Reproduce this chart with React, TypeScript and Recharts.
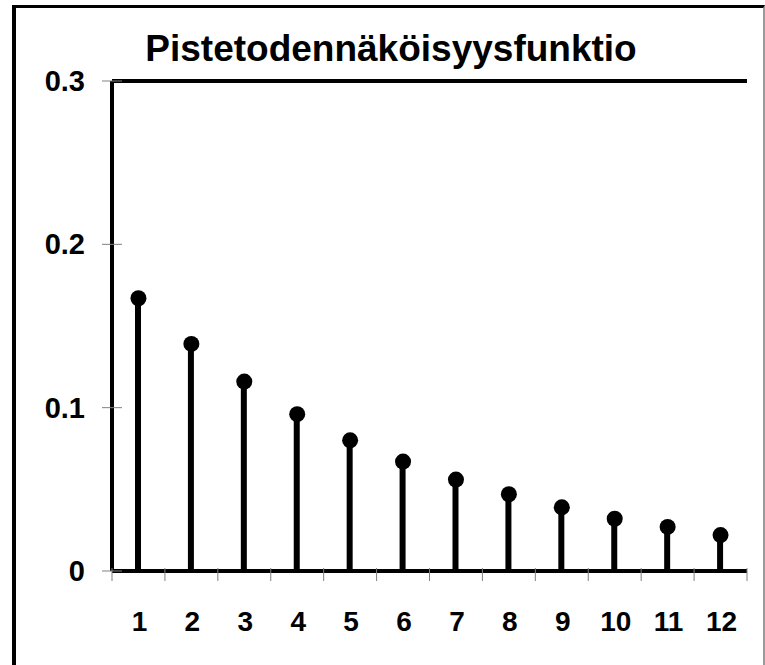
import { Bar, ComposedChart, Line, ReferenceLine, XAxis, YAxis } from "recharts";

const categories = ["1", "2", "3", "4", "5", "6", "7", "8", "9", "10", "11", "12"];
const probabilities = [0.167, 0.139, 0.116, 0.096, 0.08, 0.067, 0.056, 0.047, 0.039, 0.032, 0.027, 0.022];
const yTicks = [0, 0.1, 0.2, 0.3];
const TITLE = "Pistetodennäköisyysfunktio";

const data = categories.map((name, i) => ({ name, p: probabilities[i] }));

const FONT = "'Liberation Sans', Arial, sans-serif";
const W = 765;
const H = 665;
const LEFT = 112;
const RIGHT = 18;
const BAND = (W - LEFT - RIGHT) / categories.length;
const TICK_GREY = "#808080";

function XTick(props: any) {
  const { x, y, payload, index } = props;
  const last = index === categories.length - 1;
  return (
    <g>
      <line x1={x - BAND / 2} x2={x - BAND / 2} y1={y - 3} y2={y + 10} stroke={TICK_GREY} strokeWidth={1} />
      {last && (
        <line x1={x + BAND / 2} x2={x + BAND / 2} y1={y - 3} y2={y + 10} stroke={TICK_GREY} strokeWidth={1} />
      )}
      <text x={x + 1} y={y + 60} textAnchor="middle" fontFamily={FONT} fontWeight="bold" fontSize={28} fill="#000">
        {payload.value}
      </text>
    </g>
  );
}

function YTick(props: any) {
  const { x, y, payload } = props;
  return (
    <g>
      <line x1={x - 10} x2={x + 10} y1={y} y2={y} stroke={TICK_GREY} strokeWidth={1} />
      <text x={x - 27} y={y + 10} textAnchor="end" fontFamily={FONT} fontWeight="bold" fontSize={29} fill="#000">
        {payload.value === 0 ? "0" : payload.value.toFixed(1)}
      </text>
    </g>
  );
}

export default function App() {
  return (
    <div style={{ position: "absolute", left: 0, top: 0, width: W, height: H, overflow: "hidden", background: "#fff" }}>
      <div
        style={{
          position: "absolute",
          left: 12,
          top: 5,
          width: W - 12,
          height: 720,
          boxSizing: "border-box",
          borderLeft: "4px solid #000",
          borderTop: "3px solid #000",
          borderRight: "2px solid #9a9a9a",
        }}
      />
      <div
        style={{
          position: "absolute",
          left: 16,
          top: 30,
          width: 750,
          textAlign: "center",
          fontFamily: FONT,
          fontWeight: "bold",
          fontSize: 37,
          lineHeight: "37px",
        }}
      >
        {TITLE}
      </div>
      <div style={{ position: "absolute", left: 0, top: 0 }}>
        <ComposedChart width={W} height={H} data={data} margin={{ top: 81, right: RIGHT, bottom: 54, left: 0 }}>
          <XAxis
            dataKey="name"
            height={40}
            axisLine={{ stroke: "#000", strokeWidth: 4 }}
            tickLine={false}
            tickSize={0}
            tickMargin={0}
            tick={<XTick />}
            interval={0}
          />
          <YAxis
            width={LEFT}
            domain={[0, 0.3]}
            ticks={yTicks}
            axisLine={{ stroke: "#000", strokeWidth: 4 }}
            tickLine={false}
            tickSize={0}
            tickMargin={0}
            tick={<YTick />}
            interval={0}
          />
          <YAxis
            yAxisId="frame"
            orientation="right"
            width={0}
            tick={false}
            tickLine={false}
            axisLine={{ stroke: "#000", strokeWidth: 4 }}
          />
          <ReferenceLine y={0.3} stroke="#000" strokeWidth={4} ifOverflow="visible" />
          <Bar dataKey="p" barSize={6} fill="#000" isAnimationActive={false} />
          <Line
            dataKey="p"
            stroke="none"
            dot={{ r: 8, fill: "#000", stroke: "none" }}
            activeDot={false}
            isAnimationActive={false}
          />
        </ComposedChart>
      </div>
    </div>
  );
}
